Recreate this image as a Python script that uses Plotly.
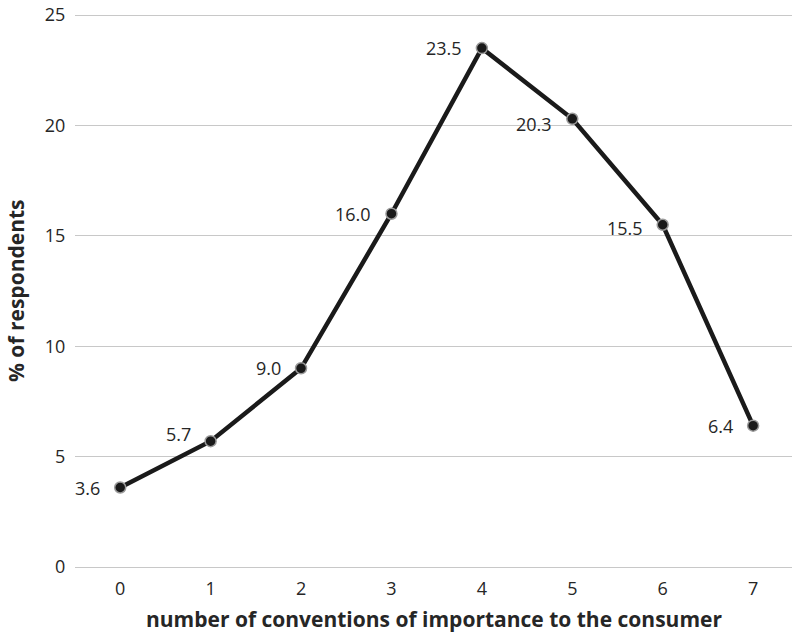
import plotly.graph_objects as go

categories = [0, 1, 2, 3, 4, 5, 6, 7]
values = [3.6, 5.7, 9.0, 16.0, 23.5, 20.3, 15.5, 6.4]
labels = ["3.6", "5.7", "9.0", "16.0", "23.5", "20.3", "15.5", "6.4"]
label_yshift = [0, 7, 0, 0, 0, -5, -3, 0]
y_ticks = [0, 5, 10, 15, 20, 25]

FONT = "Open Sans"
TXT = "#262626"

fig = go.Figure(go.Scatter(
    x=categories, y=values, mode="lines+markers",
    line=dict(color="#1a1a1a", width=4.5),
    marker=dict(size=11, color="#1a1a1a", line=dict(color="#9a9a9a", width=1.5)),
    cliponaxis=False, hoverinfo="skip",
))

annotations = []
for c, v, t, ys in zip(categories, values, labels, label_yshift):
    annotations.append(dict(
        x=c, y=v, xref="x", yref="y", text=t, showarrow=False,
        xanchor="right", yanchor="middle", xshift=-18, yshift=ys,
        font=dict(family=FONT, size=18, color=TXT),
    ))
annotations.append(dict(
    x=0.5, y=0, xref="paper", yref="paper", yshift=-49, xanchor="center", yanchor="middle",
    text="<b>number of conventions of importance to the consumer</b>", showarrow=False,
    font=dict(family=FONT, size=21, color=TXT),
))
annotations.append(dict(
    x=0, y=0.5, xref="paper", yref="paper", xshift=-59, xanchor="center", yanchor="middle",
    text="<b>% of respondents</b>", textangle=-90, showarrow=False,
    font=dict(family=FONT, size=21, color=TXT),
))

fig.update_layout(
    width=792, height=633,
    margin=dict(l=75, r=0, t=12, b=63, autoexpand=False),
    plot_bgcolor="white", paper_bgcolor="white",
    showlegend=False,
    font=dict(family=FONT, color=TXT),
    annotations=annotations,
)
fig.update_xaxes(
    range=[-0.5, 7.43], tickvals=categories, ticktext=[str(c) for c in categories],
    showgrid=False, zeroline=False, showline=False,
    ticks="outside", ticklen=2, tickcolor="rgba(0,0,0,0)",
    tickfont=dict(size=18, color=TXT), automargin=False,
)
fig.update_yaxes(
    range=[-0.136, 25.136], tickvals=y_ticks, showgrid=True, gridcolor="#c8c8c8", gridwidth=1.3,
    zeroline=False, showline=False,
    ticks="outside", ticklen=5, tickcolor="rgba(0,0,0,0)",
    tickfont=dict(size=18, color=TXT), automargin=False,
)

# remove the browser's default 8px body margin so the figure fills the window
fig.write_html("out.html", config={"displayModeBar": False},
               post_script="document.body.style.margin='0px';")
